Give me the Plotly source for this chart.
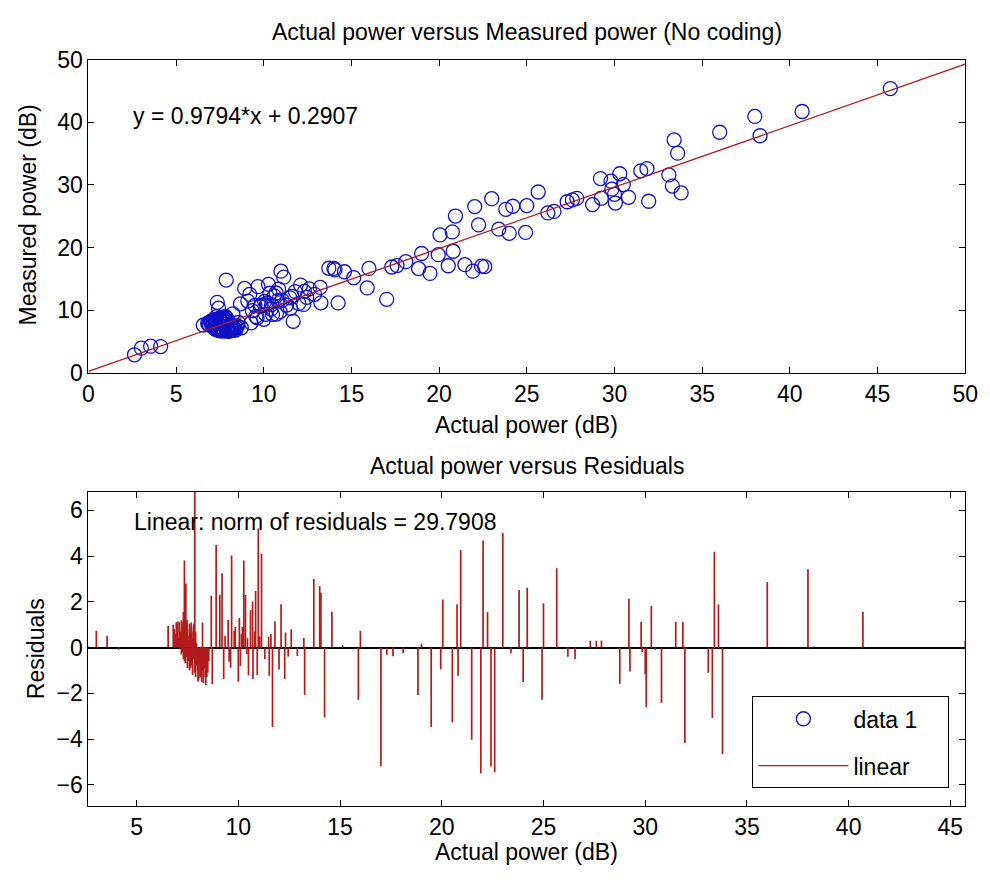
import plotly.graph_objects as go

# ---- data ----
actual = [2.63, 3.02, 3.55, 4.12, 6.55,
          6.80, 6.85, 6.90, 6.95, 7.00, 7.02, 7.05, 7.10, 7.12, 7.15, 7.20, 7.22, 7.25, 7.28,
          7.30, 7.35, 7.38, 7.42, 7.45, 7.48, 7.50, 7.55, 7.58, 7.60, 7.65, 7.68, 7.70, 7.75,
          7.78, 7.80, 7.82, 7.86, 7.90, 7.95,
          7.20, 7.25, 7.30, 7.35, 7.40, 7.45, 7.50, 7.55, 7.60, 7.65, 7.70, 7.75, 7.80, 7.85,
          7.90, 7.95, 8.00, 8.02, 8.05, 8.10, 8.12, 8.15, 8.20, 8.25, 8.28, 8.30, 8.35, 8.40,
          8.45, 8.50, 8.55,
          8.24, 8.67, 8.72, 8.91, 9.09, 9.20, 9.28, 9.35, 9.50, 9.55, 9.62, 9.67, 9.80, 9.85,
          10.00, 10.05, 10.10, 10.15, 10.20, 10.27, 10.35, 10.42, 10.45, 10.50, 10.60, 10.70,
          10.72, 10.80, 10.85, 10.93, 10.98, 11.05, 11.14, 11.30, 11.49, 11.52, 11.60, 11.68,
          11.80, 12.00, 12.10, 12.28, 12.32, 12.45, 12.60, 12.90, 13.22, 13.26,
          13.71, 14.00, 14.06, 14.24, 14.60, 15.13, 15.90, 16.00, 17.01, 17.30, 17.60, 18.10,
          18.83, 19.00, 19.48, 19.95, 20.05, 20.52, 20.75, 20.80, 20.93, 21.47, 21.92, 22.03,
          22.25, 22.42, 22.60, 23.00, 23.40, 23.80, 24.00, 24.20, 24.93, 25.00, 25.65, 26.20,
          26.55, 27.30, 27.60, 27.85, 28.75, 29.20, 29.25, 29.80, 29.85, 30.00, 30.05, 30.30,
          30.50, 30.80, 31.50, 31.85, 31.95, 33.10, 33.30, 33.40, 33.60, 33.80, 36.00, 38.00,
          38.30, 40.70, 45.73]

measured = [2.92, 3.98, 4.29, 4.23, 7.65,
            7.95, 7.80, 7.65, 8.20, 8.00, 8.32, 7.60, 8.35, 7.76, 7.99, 8.54, 8.26, 7.89, 8.52,
            8.99, 11.29, 8.12, 10.36, 8.59, 8.82, 8.44, 7.99, 8.22, 8.78, 8.38, 8.91, 8.73, 8.28,
            8.61, 8.93, 9.00, 14.84, 8.73, 8.28,
            7.04, 7.19, 6.94, 6.89, 6.84, 7.19, 6.74, 7.09, 6.73, 6.88, 7.03, 6.68, 7.43, 6.88,
            6.73, 7.28, 7.13, 6.65, 6.78, 7.52, 6.94, 7.07, 6.82, 7.37, 6.85, 7.12, 7.57, 6.87,
            7.27, 7.52, 8.07,
            9.46, 11.05, 7.23, 13.50, 11.49, 12.55, 8.01, 9.95, 10.80, 9.04, 8.83, 13.78, 10.62, 10.84,
            8.59, 11.43, 9.38, 10.83, 11.18, 14.15, 12.73, 10.20, 10.93, 9.35, 12.30, 12.77,
            9.42, 11.57, 13.39, 9.80, 16.25, 11.61, 15.30, 10.86, 12.01, 10.34, 12.25, 8.26,
            13.00, 11.09, 14.04, 10.95, 13.02, 12.09, 13.43, 12.56, 13.66, 11.21,
            16.72, 16.69, 16.46, 11.19, 16.16, 15.21, 13.58, 16.69, 11.77, 16.92, 17.15, 17.77,
            16.66, 19.07, 15.90, 18.88, 22.03, 17.12, 22.51, 19.43, 25.05, 17.29, 16.26, 26.55,
            23.63, 17.05, 16.98, 27.82, 22.96, 26.12, 22.29, 26.61, 22.43, 26.71, 28.88, 25.55,
            25.79, 27.33, 27.62, 27.87, 26.87, 31.02, 27.89, 30.61, 29.33, 28.51, 27.12, 31.79,
            30.06, 28.04, 32.26, 32.61, 27.41, 31.61, 29.83, 37.19, 35.08, 28.74, 38.41, 40.93,
            37.85, 41.72, 45.38]

slope = 0.9794
intercept = 0.2907
norm_text = "29.7908"
fit_x = [0, 50]

top_xticks = [0, 5, 10, 15, 20, 25, 30, 35, 40, 45, 50]
top_yticks = [0, 10, 20, 30, 40, 50]
bot_xticks = [5, 10, 15, 20, 25, 30, 35, 40, 45]
bot_yticks = [-6, -4, -2, 0, 2, 4, 6]

# ---- derived ----
fit_y = [slope * x + intercept for x in fit_x]
residuals = [m - (slope * a + intercept) for a, m in zip(actual, measured)]
stem_x, stem_y = [], []
for a, r in zip(actual, residuals):
    stem_x += [a, a, None]
    stem_y += [0, r, None]

FONT = "Liberation Sans, Arial, sans-serif"
FS = 23
BLUE = "#1010c8"
RED = "#b01c1c"
NB = "\u00a0"

fig = go.Figure()
fig.add_trace(go.Scatter(x=actual, y=measured, mode="markers", name="data 1" + NB * 4,
                         legendgroup="a",
                         marker=dict(symbol="circle-open", size=14, color=BLUE,
                                     line=dict(width=1.3, color=BLUE)),
                         xaxis="x", yaxis="y"))
fig.add_trace(go.Scatter(x=fit_x, y=fit_y, mode="lines", name="linear",
                         legendgroup="b",
                         line=dict(color=RED, width=1.3), xaxis="x", yaxis="y"))
fig.add_trace(go.Scatter(x=stem_x, y=stem_y, mode="lines", showlegend=False,
                         line=dict(color=RED, width=1.7), xaxis="x2", yaxis="y2"))

W, H = 990, 884
L, R = 84, 978
T1, B1 = 48, 371
T2, B2 = 493, 817

axis_common = dict(showgrid=False, zeroline=False, showline=True, linecolor="black",
                   linewidth=1, mirror="ticks", ticks="inside", ticklen=6,
                   tickcolor="black", ticklabeloverflow="allow",
                   tickfont=dict(family=FONT, size=FS, color="black"))

fig.update_layout(
    width=W, height=H,
    margin=dict(l=0, r=0, t=0, b=0),
    paper_bgcolor="white", plot_bgcolor="white",
    font=dict(family=FONT, size=FS, color="black"),
    xaxis=dict(domain=[L / W, R / W], range=[0, 50], tickvals=top_xticks,
               anchor="y", **axis_common),
    yaxis=dict(domain=[1 - B1 / H, 1 - T1 / H], range=[0, 50], tickvals=top_yticks,
               anchor="x", **axis_common),
    xaxis2=dict(domain=[L / W, R / W], range=[2.63, 45.73], tickvals=bot_xticks,
                anchor="y2", **axis_common),
    yaxis2=dict(domain=[1 - B2 / H, 1 - T2 / H], range=[-6.92, 6.82], tickvals=bot_yticks,
                anchor="x2", **{**axis_common, "zeroline": True},
                zerolinecolor="black", zerolinewidth=1.5),
    showlegend=True,
    legend=dict(x=761 / W, y=1 - 704 / H, xanchor="left", yanchor="top",
                bgcolor="white", bordercolor="black", borderwidth=1,
                font=dict(family=FONT, size=FS, color="black"),
                tracegroupgap=14, itemwidth=90),
)

ann = [
    dict(text="Actual power versus Measured power (No coding)", x=(L + R) / 2 / W, y=1 - 20 / H),
    dict(text="Actual power (dB)", x=(L + R) / 2 / W, y=1 - 424 / H),
    dict(text="Actual power versus Residuals", x=(L + R) / 2 / W, y=1 - 467 / H),
    dict(text="Actual power (dB)", x=(L + R) / 2 / W, y=1 - 864 / H),
    dict(text="Measured power (dB)", x=22 / W, y=1 - 208 / H, textangle=-90),
    dict(text="Residuals", x=30 / W, y=1 - 655 / H, textangle=-90),
    dict(text=f"y = {slope}*x + {intercept}", x=127 / W, y=1 - 106 / H, xanchor="left"),
    dict(text=f"Linear: norm of residuals = {norm_text}", x=128 / W, y=1 - 524 / H, xanchor="left"),
]
for a in ann:
    base = dict(xref="paper", yref="paper", showarrow=False, xanchor="center",
                yanchor="middle", font=dict(family=FONT, size=FS, color="black"))
    base.update(a)
    fig.add_annotation(**base)

fig.write_html("out.html")
